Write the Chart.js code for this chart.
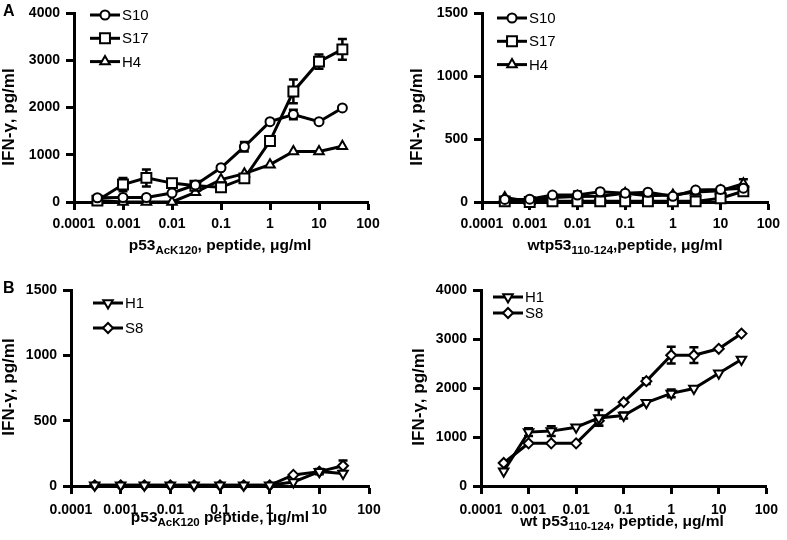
<!DOCTYPE html>
<html>
<head>
<meta charset="utf-8">
<script src="https://cdn.jsdelivr.net/npm/chart.js"></script>
<style>
  body { margin: 0; background: #fff; }
  #wrap { position: relative; width: 787px; height: 540px; }
  canvas { position: absolute; }
</style>
</head>
<body>
<div id="wrap">
  <canvas id="aLeft" width="390" height="262" style="left:0;top:0"></canvas>
  <canvas id="aRight" width="397" height="262" style="left:390px;top:0"></canvas>
  <canvas id="bLeft" width="390" height="278" style="left:0;top:262px"></canvas>
  <canvas id="bRight" width="397" height="278" style="left:390px;top:262px"></canvas>
</div>
<script>
// peptide doses (ug/ml), same for every panel
const doses = [0.0003, 0.001, 0.003, 0.01, 0.03, 0.1, 0.3, 1, 3, 10, 30];
const xTickLabels = ['0.0001', '0.001', '0.01', '0.1', '1', '10', '100'];
const yTicksBig = [0, 1000, 2000, 3000, 4000];
const yTicksSmall = [0, 500, 1000, 1500];

// A left: p53 AcK120 peptide
const acS10 = [90, 95, 95, 190, 360, 725, 1170, 1700, 1850, 1700, 1990];
const acS10Err = [0, 0, 0, 0, 0, 0, 100, 0, 100, 0, 0];
const acS17 = [30, 370, 510, 400, 345, 310, 500, 1290, 2340, 2970, 3230];
const acS17Err = [0, 140, 180, 60, 30, 90, 60, 60, 250, 150, 220];
const acH4 = [30, 0, 0, 0, 205, 475, 600, 790, 1070, 1070, 1180];

// A right: wt p53 110-124 peptide
const wtS10 = [20, 22, 55, 55, 82, 70, 78, 45, 95, 100, 110];
const wtS17 = [5, 0, 5, 5, 5, 5, 5, 5, 5, 30, 85];
const wtH4 = [35, 5, 35, 43, 45, 69, 50, 56, 80, 90, 145];
const wtH4Err = [0, 0, 0, 40, 0, 0, 0, 0, 0, 0, 35];

// B left: p53 AcK120 peptide
const acH1 = [5, 5, 5, 5, 5, 5, 5, 5, 30, 110, 95];
const acS8 = [5, 5, 5, 5, 5, 5, 5, 5, 85, 110, 155];
const acS8Err = [0, 0, 0, 0, 0, 0, 0, 0, 0, 20, 40];

// B right: wt p53 110-124 peptide
const wtH1 = [300, 1100, 1120, 1200, 1390, 1440, 1700, 1890, 1990, 2300, 2580];
const wtH1Err = [0, 80, 100, 0, 160, 60, 0, 80, 0, 0, 0];
const wtS8 = [470, 870, 870, 870, 1330, 1710, 2140, 2670, 2670, 2800, 3110];
const wtS8Err = [0, 0, 0, 0, 100, 0, 60, 170, 160, 0, 0];

const FONT = "'Liberation Sans', Arial, sans-serif";

const errBars = {
  id: 'errBars',
  beforeDatasetsDraw(chart) {
    const ctx = chart.ctx;
    const xs = chart.scales.x, ys = chart.scales.y;
    ctx.save();
    ctx.strokeStyle = '#000';
    ctx.lineWidth = 2.5;
    chart.data.datasets.forEach(ds => {
      if (!ds.err) return;
      ds.data.forEach((p, i) => {
        const e = ds.err[i];
        if (!e) return;
        const px = xs.getPixelForValue(p.x);
        const top = ys.getPixelForValue(p.y + e);
        const bot = ys.getPixelForValue(Math.max(0, p.y - e));
        ctx.beginPath();
        ctx.moveTo(px, top); ctx.lineTo(px, bot);
        ctx.moveTo(px - 4.5, top); ctx.lineTo(px + 4.5, top);
        ctx.moveTo(px - 4.5, bot); ctx.lineTo(px + 4.5, bot);
        ctx.stroke();
      });
    });
    ctx.restore();
  }
};
Chart.register(errBars);

// titles, panel letter and legend drawn on the canvas
function makeDeco(cfg) {
  return {
    id: 'deco',
    afterDraw(chart) {
      const ctx = chart.ctx;
      ctx.save();
      ctx.fillStyle = '#000';
      if (cfg.letter) {
        ctx.font = 'bold 16px ' + FONT;
        ctx.textAlign = 'left';
        ctx.textBaseline = 'alphabetic';
        ctx.fillText(cfg.letter[0], cfg.letter[1], cfg.letter[2]);
      }
      // y title
      ctx.save();
      ctx.translate(cfg.yTitle[0], cfg.yTitle[1]);
      ctx.rotate(-Math.PI / 2);
      ctx.font = 'bold 17px ' + FONT;
      ctx.textAlign = 'center';
      ctx.textBaseline = 'middle';
      ctx.fillText('IFN-γ, pg/ml', 0, 0);
      ctx.restore();
      // x title with subscript
      const main = 'bold 15.5px ' + FONT, sub = 'bold 11.5px ' + FONT;
      let total = 0;
      cfg.xTitle.parts.forEach(p => { ctx.font = p[1] ? sub : main; total += ctx.measureText(p[0]).width; });
      let x = cfg.xTitle.x - total / 2;
      ctx.textAlign = 'left';
      ctx.textBaseline = 'middle';
      cfg.xTitle.parts.forEach(p => {
        ctx.font = p[1] ? sub : main;
        ctx.fillText(p[0], x, cfg.xTitle.y + (p[1] ? 5 : 0));
        x += ctx.measureText(p[0]).width;
      });
      // legend
      const lg = cfg.legend;
      chart.data.datasets.forEach((ds, i) => {
        const y = lg.y + i * lg.dy;
        ctx.strokeStyle = '#000';
        ctx.lineWidth = 3;
        ctx.beginPath();
        ctx.moveTo(lg.x, y); ctx.lineTo(lg.x + 30, y);
        ctx.stroke();
        ctx.fillStyle = '#fff';
        ctx.lineWidth = 2;
        Chart.helpers.drawPoint(ctx, {
          pointStyle: ds.pointStyle, rotation: ds.pointRotation || 0,
          radius: ds.pointRadius, borderWidth: 2
        }, lg.x + 15, y);
        ctx.fillStyle = '#000';
        ctx.font = '15px ' + FONT;
        ctx.textBaseline = 'middle';
        ctx.fillText(ds.label, lg.x + 32, y + 1);
      });
      ctx.restore();
    }
  };
}

function pts(vals) {
  return doses.map((d, i) => ({ x: d, y: vals[i] }));
}

function series(label, vals, err, style, radius, rot) {
  return {
    label: label,
    data: pts(vals),
    err: err,
    borderColor: '#000',
    borderWidth: 3,
    pointStyle: style,
    pointRadius: radius,
    pointRotation: rot || 0,
    pointBackgroundColor: '#fff',
    pointBorderColor: '#000',
    pointBorderWidth: 2,
    tension: 0,
    clip: false
  };
}

function makePanel(id, datasets, yTicks, lay, deco) {
  const tickFont = { family: FONT, weight: 'bold', size: 14, lineHeight: 1 };
  const axisGrid = { drawOnChartArea: false, drawTicks: true, tickLength: 8, tickWidth: 3, tickColor: '#000' };
  const axisBorder = { display: true, width: 3, color: '#000' };
  new Chart(document.getElementById(id), {
    type: 'line',
    data: { datasets: datasets },
    options: {
      responsive: false,
      animation: false,
      events: [],
      layout: { padding: { top: lay.top, right: lay.right, left: 0, bottom: 0 } },
      plugins: { legend: { display: false }, tooltip: { enabled: false } },
      scales: {
        x: {
          type: 'logarithmic',
          min: Number(xTickLabels[0]),
          max: Number(xTickLabels[xTickLabels.length - 1]),
          afterBuildTicks: s => { s.ticks = xTickLabels.map(t => ({ value: Number(t) })); },
          afterFit: s => { s.height = lay.xh; },
          ticks: {
            callback: (v, i) => xTickLabels[i],
            font: tickFont, color: '#000', maxRotation: 0, autoSkip: false, padding: lay.tp
          },
          grid: axisGrid,
          border: axisBorder
        },
        y: {
          type: 'linear',
          min: yTicks[0],
          max: yTicks[yTicks.length - 1],
          afterBuildTicks: s => { s.ticks = yTicks.map(v => ({ value: v })); },
          afterFit: s => { s.width = lay.yw; },
          ticks: { callback: v => String(v), font: tickFont, color: '#000', padding: 6 },
          grid: axisGrid,
          border: axisBorder
        }
      }
    },
    plugins: [makeDeco(deco)]
  });
}

makePanel('aLeft', [
  series('S10', acS10, acS10Err, 'circle', 4.5),
  series('S17', acS17, acS17Err, 'rect', 7),
  series('H4', acH4, null, 'triangle', 5.5)
], yTicksBig, { top: 7, right: 22, xh: 60, yw: 74, tp: 7 }, {
  letter: ['A', 3, 16],
  yTitle: [9, 117],
  xTitle: { parts: [['p53', false], ['AcK120', true], [', peptide, μg/ml', false]], x: 220, y: 246 },
  legend: { x: 90, y: 15, dy: 23.3 }
});

makePanel('aRight', [
  series('S10', wtS10, null, 'circle', 4.5),
  series('S17', wtS17, null, 'rect', 7),
  series('H4', wtH4, wtH4Err, 'triangle', 5.5)
], yTicksSmall, { top: 7, right: 11, xh: 60, yw: 92, tp: 7 }, {
  yTitle: [27.5, 117],
  xTitle: { parts: [['wtp53', false], ['110-124', true], [',peptide, μg/ml', false]], x: 235, y: 246 },
  legend: { x: 107, y: 18, dy: 23.3 }
});

makePanel('bLeft', [
  series('H1', acH1, null, 'triangle', 5.5, 180),
  series('S8', acS8, acS8Err, 'rectRot', 5)
], yTicksSmall, { top: 28, right: 21, xh: 54, yw: 71, tp: 9 }, {
  letter: ['B', 3, 31],
  yTitle: [9, 125],
  xTitle: { parts: [['p53', false], ['AcK120', true], [' peptide, μg/ml', false]], x: 220, y: 256 },
  legend: { x: 93, y: 41, dy: 25 }
});

makePanel('bRight', [
  series('H1', wtH1, wtH1Err, 'triangle', 5.5, 180),
  series('S8', wtS8, wtS8Err, 'rectRot', 5)
], yTicksBig, { top: 28, right: 11, xh: 54, yw: 91, tp: 9 }, {
  yTitle: [29, 135],
  xTitle: { parts: [['wt p53', false], ['110-124', true], [', peptide, μg/ml', false]], x: 232, y: 260 },
  legend: { x: 103, y: 35, dy: 16 }
});
</script>
</body>
</html>
